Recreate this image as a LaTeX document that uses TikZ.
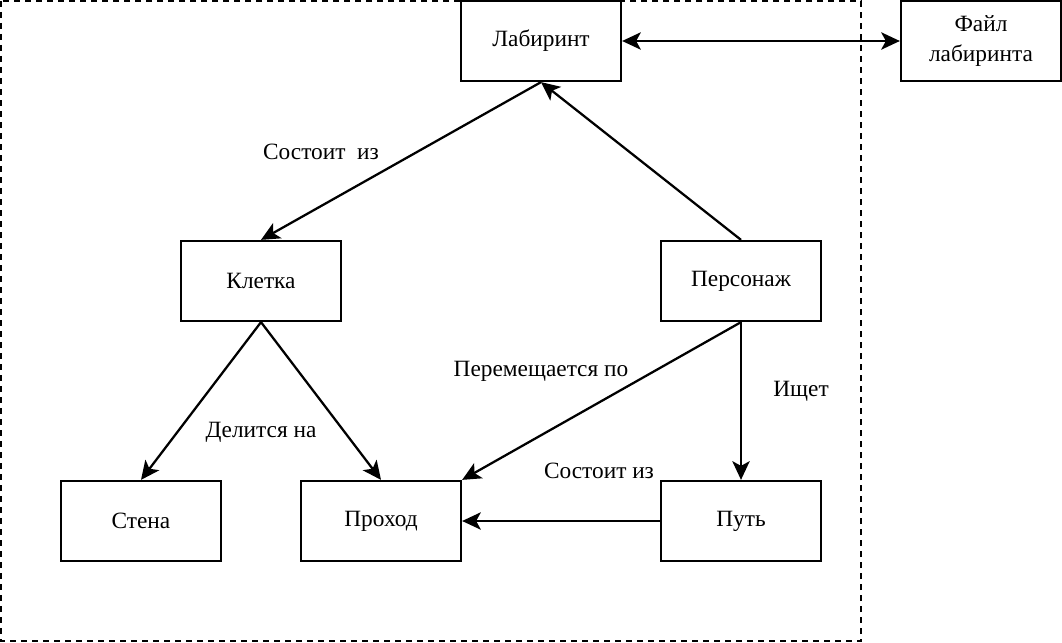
\documentclass[tikz,border=0pt]{standalone}
\usepackage{fontspec}
\setmainfont{Liberation Serif}
\usetikzlibrary{arrows.meta}
\begin{document}
\begin{tikzpicture}[x=0.75pt,y=-0.75pt,
  box/.style={draw,line width=1.7pt,minimum width=120pt,minimum height=60pt,inner sep=0pt,align=center,font=\fontsize{17.5}{19}\selectfont},
  lbl/.style={font=\fontsize{17.5}{19}\selectfont,inner sep=0pt},
  arr/.style={line width=1.7pt,-{Stealth[length=14pt,width=13pt,inset=3.5pt]}},
  darr/.style={line width=1.7pt,{Stealth[length=14pt,width=13pt,inset=3.5pt]}-{Stealth[length=14pt,width=13pt,inset=3.5pt]}}]
\useasboundingbox (0,0) rectangle (1062,642);
\draw[line width=1.7pt,dash pattern=on 4.5pt off 3.75pt] (1,1) rectangle (861,641);
\node[box] (lab) at (541,41) {\raisebox{-2pt}{Лабиринт}};
\node[box] (file) at (981,41) {Файл\\[3pt]лабиринта};
\node[box] (cell) at (261,281) {\raisebox{-2pt}{Клетка}};
\node[box] (pers) at (741,281) {\raisebox{-2pt}{Персонаж}};
\node[box] (wall) at (141,521) {\raisebox{-2pt}{Стена}};
\node[box] (pass) at (381,521) {\raisebox{-2pt}{Проход}};
\node[box] (path) at (741,521) {\raisebox{-2pt}{Путь}};
\draw[darr] (lab.east) -- (file.west);
\draw[arr] (lab.south) -- (cell.north);
\draw[arr] (pers.north) -- (lab.south);
\draw[arr] (cell.south) -- (wall.north);
\draw[arr] (cell.south) -- (pass.north);
\draw[arr] (pers.south) -- (pass.north east);
\draw[arr] (pers.south) -- (path.north);
\draw[arr] (path.west) -- (pass.east);
\node[lbl] (l1) at (321,152) {Состоит\ \ из};
\node[lbl] (l2) at (261,432) {Делится на};
\node[lbl] (l3) at (541,371) {Перемещается по};
\node[lbl] (l4) at (801,391) {Ищет};
\node[lbl] (l5) at (599,471) {Состоит из};
\end{tikzpicture}
\end{document}
